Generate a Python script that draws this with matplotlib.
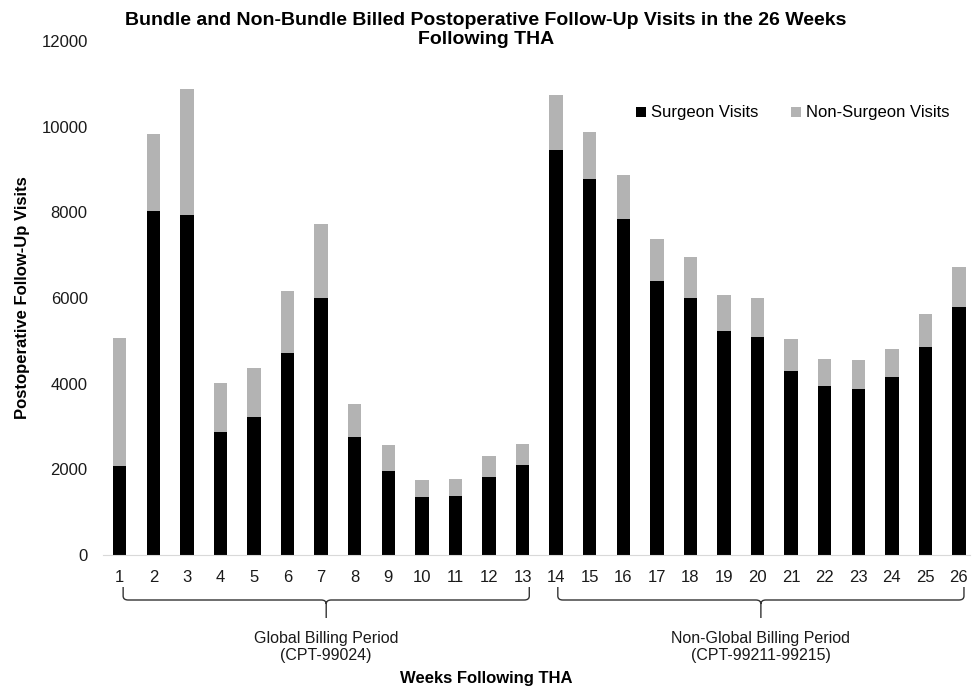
import matplotlib
matplotlib.use("Agg")
import matplotlib.pyplot as plt
import matplotlib.transforms as mtransforms
from matplotlib.path import Path
from matplotlib.patches import PathPatch

plt.rcParams['font.family'] = ['Liberation Sans', 'DejaVu Sans']

weeks = [str(w) for w in range(1, 27)]
surgeon = [2080, 8020, 7940, 2870, 3220, 4710, 5990, 2750, 1960, 1345, 1385, 1815, 2090,
           9450, 8770, 7845, 6400, 5990, 5220, 5090, 4290, 3945, 3870, 4165, 4860, 5800]
total = [5060, 9830, 10890, 4025, 4365, 6175, 7720, 3535, 2575, 1755, 1765, 2300, 2580,
         10735, 9865, 8880, 7380, 6950, 6065, 5990, 5035, 4585, 4550, 4800, 5625, 6725]
non_surgeon = [t - s for t, s in zip(total, surgeon)]

periods = ["Global Billing Period\n(CPT-99024)", "Non-Global Billing Period\n(CPT-99211-99215)"]
period_spans = [(0.1, 12.2), (13.05, 25.15)]

fig = plt.figure(figsize=(9.72, 6.9), dpi=100)
ax = fig.add_axes([103 / 972, 1 - 555 / 690, (970 - 103) / 972, (555 - 41) / 690])

x = range(len(weeks))
ax.bar(x, surgeon, width=0.4, color='black', label='Surgeon Visits')
ax.bar(x, non_surgeon, width=0.4, bottom=surgeon, color='#b3b3b3', label='Non-Surgeon Visits')

ax.set_xlim(-0.5, 25.33)
ax.set_ylim(0, 12000)
ax.set_yticks(range(0, 12001, 2000))
ax.set_xticks(list(x))
ax.set_xticklabels(weeks)
ax.tick_params(axis='both', length=0, labelsize=12, colors='#1a1a1a')
ax.tick_params(axis='y', pad=11)
ax.tick_params(axis='x', pad=11)
for side in ['top', 'right', 'left']:
    ax.spines[side].set_visible(False)
ax.spines['bottom'].set_color('#d9d9d9')

ax.set_ylabel('Postoperative Follow-Up Visits', fontsize=12, fontweight='bold', labelpad=8)
fig.text(0.5, 1 - 678 / 690, 'Weeks Following THA', ha='center', va='center',
         fontsize=12, fontweight='bold')
fig.text(0.5, 1 - 30 / 690, 'Bundle and Non-Bundle Billed Postoperative Follow-Up Visits in the 26 Weeks\nFollowing THA',
         ha='center', va='center', fontsize=14, fontweight='bold', linespacing=1.1)

leg = ax.legend(ncol=2, loc='center right', bbox_to_anchor=(964 / 972, 1 - 113 / 690),
                bbox_transform=fig.transFigure, frameon=False, fontsize=12,
                handlelength=0.55, handleheight=0.55, handletextpad=0.3, columnspacing=2.0)

# braces under the week labels
trans = mtransforms.blended_transform_factory(ax.transData, fig.transFigure)
y_top = 1 - 587 / 690
y_mid = 1 - 600 / 690
y_tip = 1 - 618 / 690
r = 0.15
for (x0, x1), label in zip(period_spans, periods):
    xm = (x0 + x1) / 2
    verts = [(x0, y_top), (x0, 1 - 596 / 690), (x0, y_mid), (x0 + r, y_mid),
             (xm - r, y_mid), (xm, y_mid), (xm, 1 - 604 / 690), (xm, y_tip),
             (xm, 1 - 604 / 690), (xm, y_mid), (xm + r, y_mid),
             (x1 - r, y_mid), (x1, y_mid), (x1, 1 - 596 / 690), (x1, y_top)]
    codes = [Path.MOVETO, Path.LINETO, Path.CURVE3, Path.CURVE3,
             Path.LINETO, Path.CURVE3, Path.CURVE3, Path.LINETO,
             Path.MOVETO, Path.CURVE3, Path.CURVE3,
             Path.LINETO, Path.CURVE3, Path.CURVE3, Path.LINETO]
    patch = PathPatch(Path(verts, codes), transform=trans, fill=False,
                      edgecolor='#333333', linewidth=1.0, clip_on=False)
    fig.add_artist(patch)
    fig.text(xm, 1 - 647 / 690, label, transform=trans, ha='center', va='center',
             fontsize=11.5, color='#1a1a1a', linespacing=1.2)

fig.savefig('out.png', dpi=100)
